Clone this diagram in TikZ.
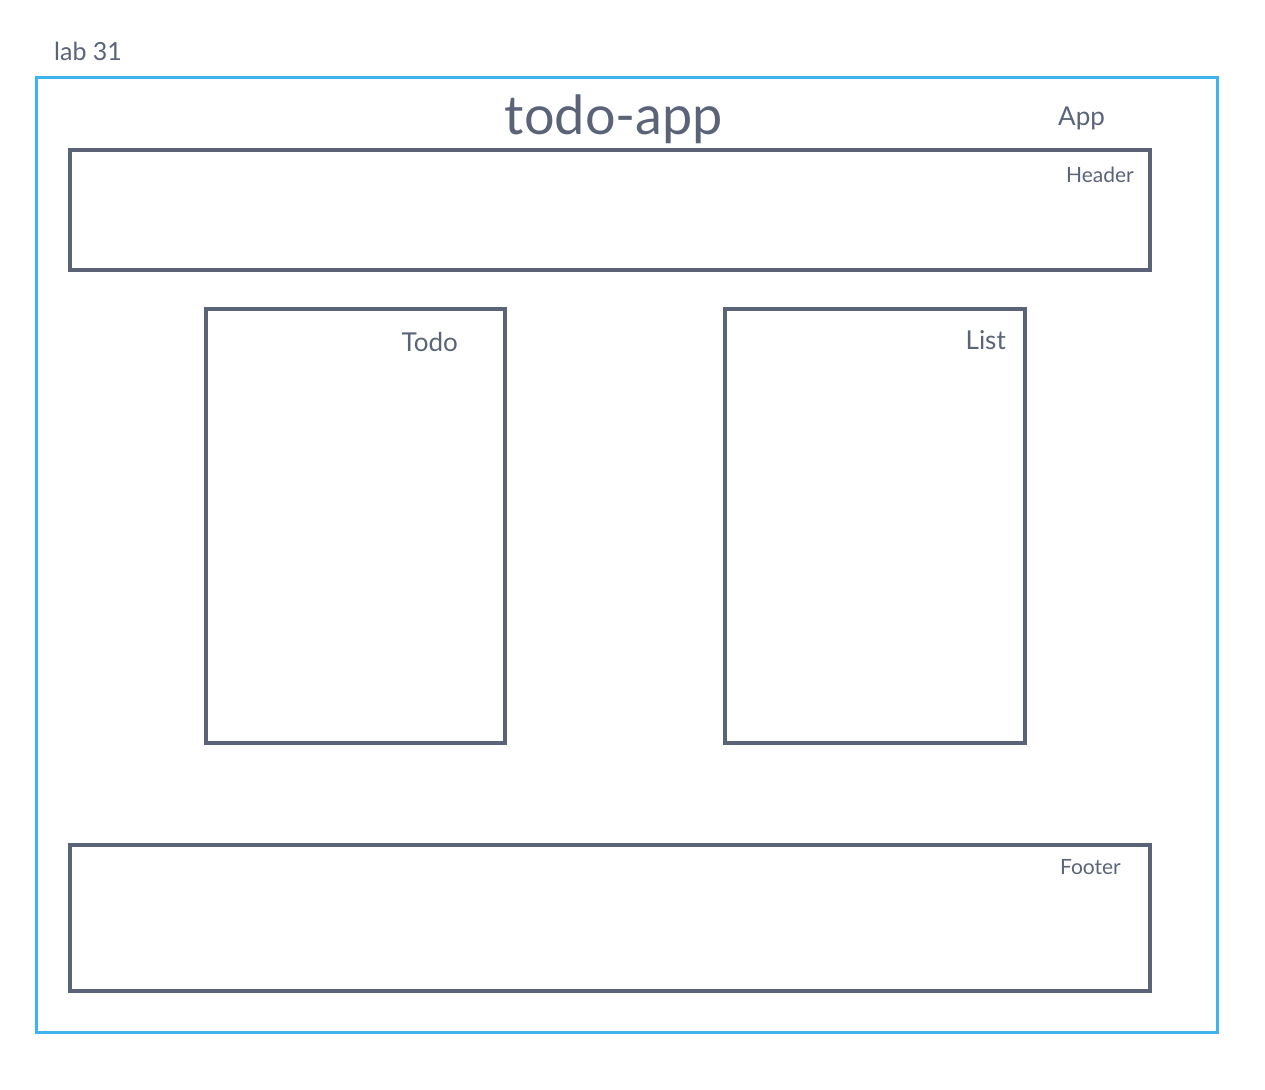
\documentclass[tikz,border=0pt]{standalone}
\usepackage{fontspec}
\setmainfont{Lato}
\definecolor{ink}{HTML}{5A6378}
\definecolor{sky}{HTML}{3FB3EE}
\begin{document}
\begin{tikzpicture}[x=1pt,y=-1pt,
  frame/.style={draw=sky,line width=3pt},
  part/.style={draw=ink,line width=3.6pt},
  lbl/.style={text=ink,inner sep=0pt,font=\fontsize{#1}{#1}\selectfont},
  lbl/.default=26]
  \useasboundingbox (0,0) rectangle (1265,1089);
  % outer application frame
  \draw[frame] (36,78) rectangle (1217,1032);
  % components
  \draw[part] (70,150) rectangle (1150,270);
  \draw[part] (206,309) rectangle (505,743);
  \draw[part] (725,309) rectangle (1025,743);
  \draw[part] (70,845) rectangle (1150,991);
  % labels
  \node[lbl=25,anchor=west] (lab) at (54,51) {lab 31};
  \node[lbl=54] (title) at (614,119) {todo-app};
  \node[lbl=26,anchor=west] (app) at (1058,118) {App};
  \node[lbl=21,anchor=east] (header) at (1134,175) {Header};
  \node[lbl=26,anchor=east] (todo) at (458,342) {Todo};
  \node[lbl=26,anchor=east] (list) at (1006,340) {List};
  \node[lbl=21,anchor=east] (footer) at (1121,867) {Footer};
\end{tikzpicture}
\end{document}
